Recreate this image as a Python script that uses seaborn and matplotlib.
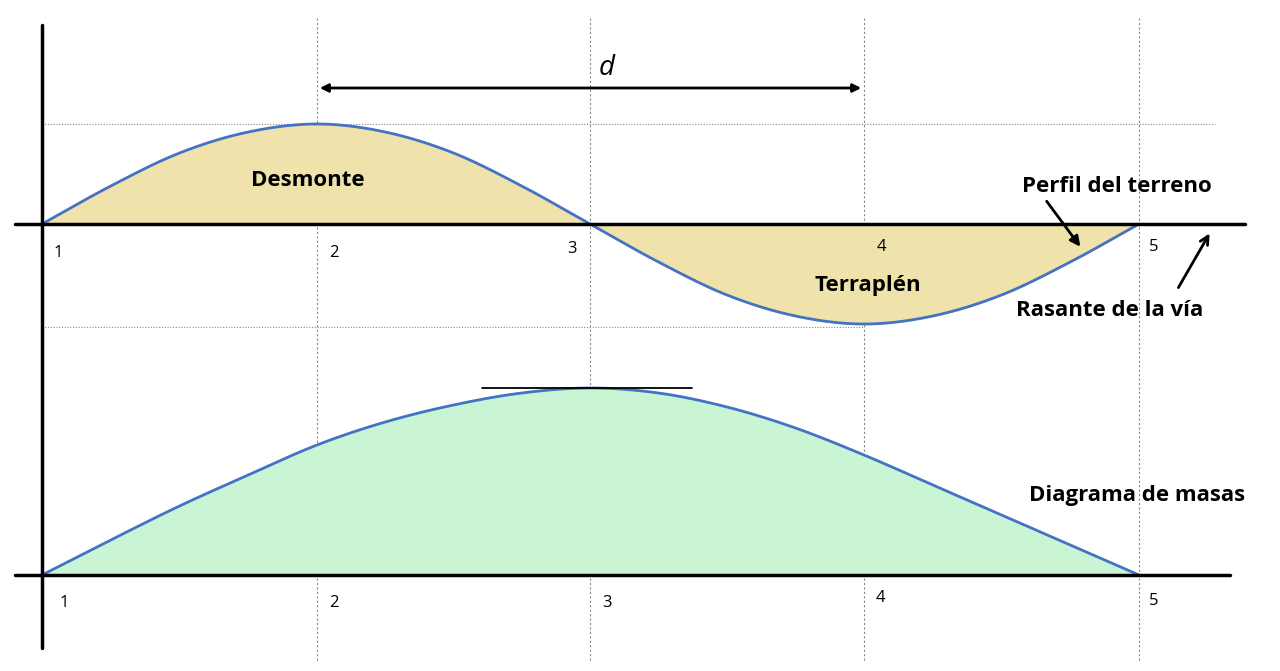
import numpy as np
import matplotlib
matplotlib.use("Agg")
import matplotlib.pyplot as plt
import seaborn as sns

sns.set_theme(style="white")
plt.rcParams['font.family'] = ['Open Sans', 'DejaVu Sans']

# stations (pixel x positions of stations 1..5)
station_labels = ["1", "2", "3", "4", "5"]
station_x = [42, 317, 590, 864, 1139]
# sampled positions (in station units) and heights (px above baseline)
pos = [0, 0.25, 0.5, 0.75, 1, 1.25, 1.5, 1.75, 2, 2.25, 2.5, 2.75, 3, 3.25, 3.5, 3.75, 4]
profile = [0, 38, 71, 92, 100, 92, 71, 38, 0, -38, -71, -92, -100, -92, -71, -38, 0]
masses = [0, 35, 69, 100, 130, 153, 170, 182, 187, 182, 168, 147, 120, 90, 60, 30, 0]

def catmull(p, v, n=30):
    p = np.array(p, float); v = np.array(v, float)
    pp = np.concatenate([[2*p[0]-p[1]], p, [2*p[-1]-p[-2]]])
    vv = np.concatenate([[2*v[0]-v[1]], v, [2*v[-1]-v[-2]]])
    xs, ys = [], []
    for i in range(1, len(pp)-2):
        t = np.linspace(0, 1, n, endpoint=False)
        for arr, out in ((pp, xs), (vv, ys)):
            a0, a1, a2, a3 = arr[i-1:i+3]
            out.extend(0.5*((2*a1) + (-a0+a2)*t + (2*a0-5*a1+4*a2-a3)*t**2 + (-a0+3*a1-3*a2+a3)*t**3))
    xs.append(pp[-2]); ys.append(vv[-2])
    return np.array(xs), np.array(ys)

def to_px(s):
    return np.interp(s, range(5), station_x)

fig = plt.figure(figsize=(12.8, 6.71), dpi=100)
ax = fig.add_axes([0, 0, 1, 1])
ax.set_xlim(0, 1280); ax.set_ylim(671, 0); ax.axis("off")

top0, bot0 = 224, 575
line_c = "#4472c4"

sx, sy = catmull(pos, profile)
px = to_px(sx); py = top0 - sy
ax.fill_between(px, top0, py, color="#efe3ab", zorder=1)
sns.lineplot(x=px, y=py, ax=ax, color=line_c, lw=2, sort=False, zorder=3)

mx, my = catmull(pos, masses)
mpx = to_px(mx); mpy = bot0 - my
ax.fill_between(mpx, bot0, mpy, color="#caf5d5", zorder=1)
sns.lineplot(x=mpx, y=mpy, ax=ax, color=line_c, lw=2, sort=False, zorder=3)

# grid
for x in station_x[1:]:
    ax.plot([x, x], [18, 662], color="#888888", lw=0.8, ls=(0, (2, 2)), zorder=0)
ax.plot([42, 1215], [124, 124], color="#888888", lw=0.8, ls=(0, (1, 1.5)), zorder=0)
ax.plot([42, 864], [327, 327], color="#888888", lw=0.8, ls=(0, (1, 1.5)), zorder=0)

# axes lines
ax.plot([42, 42], [25, 648], color="black", lw=2.5, zorder=4)
ax.plot([15, 1245], [top0, top0], color="black", lw=2.5, zorder=4)
ax.plot([15, 1230], [bot0, bot0], color="black", lw=2.5, zorder=4)
ax.plot([482, 692], [388, 388], color="black", lw=1.3, zorder=4)

# station labels
top_lab = [(58, 253), (334, 253), (572, 249), (881, 247), (1154, 247)]
bot_lab = [(64, 603), (334, 603), (607, 603), (880, 598), (1154, 601)]
for lab, (x, y) in zip(station_labels, top_lab):
    ax.text(x, y, lab, fontsize=12, ha="center", va="center", color="black")
for lab, (x, y) in zip(station_labels, bot_lab):
    ax.text(x, y, lab, fontsize=12, ha="center", va="center", color="black")

ax.annotate("", xy=(317, 88), xytext=(864, 88),
            arrowprops=dict(arrowstyle="<|-|>", color="black", lw=2, mutation_scale=12))
ax.text(607, 68, "d", fontsize=20, style="italic", ha="center", va="center", color="black")

kw = dict(fontsize=16, fontweight="bold", ha="center", va="center", color="black")
ax.text(308, 181, "Desmonte", **kw)
ax.text(868, 285, "Terraplén", **kw)
ax.text(1117, 187, "Perfil del terreno", **kw)
ax.text(1110, 310, "Rasante de la vía", **kw)
ax.text(1137, 496, "Diagrama de masas", **kw)

ax.annotate("", xy=(1082, 249), xytext=(1045, 199),
            arrowprops=dict(arrowstyle="-|>", color="black", lw=2, mutation_scale=15))
ax.annotate("", xy=(1211, 231), xytext=(1177, 290),
            arrowprops=dict(arrowstyle="->", color="black", lw=2, mutation_scale=15))

fig.savefig("out.png", dpi=100, facecolor="white")
